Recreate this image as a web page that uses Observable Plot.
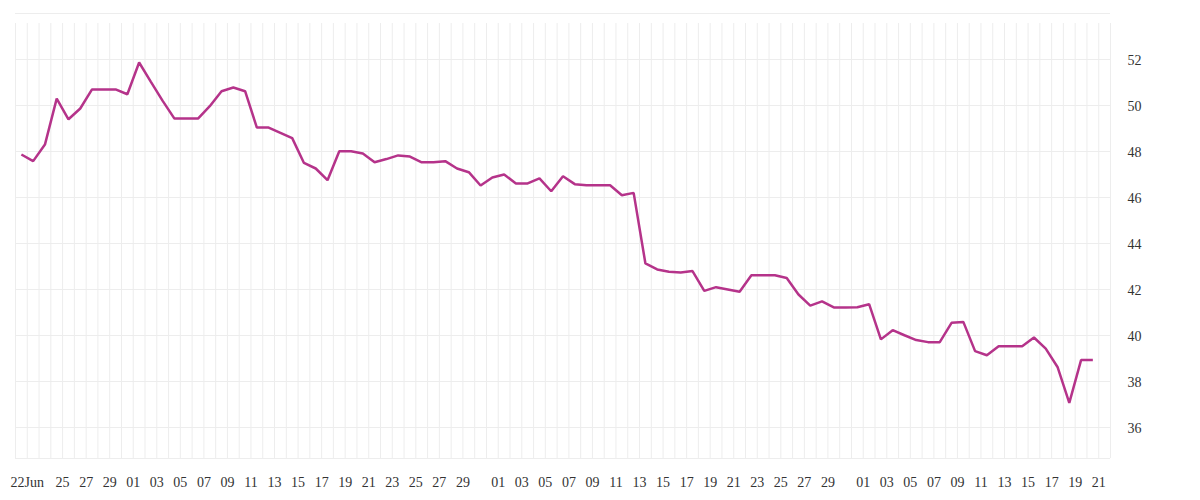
<!DOCTYPE html>
<html>
<head>
<meta charset="utf-8">
<script src="https://cdn.jsdelivr.net/npm/d3@7"></script>
<script src="https://cdn.jsdelivr.net/npm/@observablehq/plot@0.6"></script>
<style>
  html, body { margin: 0; padding: 0; background: #fff; }
  #chart svg { display: block; }
</style>
</head>
<body>
<div id="chart"></div>
<script>
// ---- data ----
const startDate = "2023-06-22";
const values = [
  47.87, 47.58, 48.30, 50.30, 49.40, 49.87, 50.70, 50.70, 50.70, 50.49,
  51.87, 51.03, 50.20, 49.43, 49.43, 49.43, 49.97, 50.62, 50.78, 50.62,
  49.04, 49.04, 48.81, 48.58, 47.50, 47.26, 46.75, 48.01, 48.01, 47.91,
  47.53, 47.67, 47.83, 47.78, 47.53, 47.53, 47.58, 47.26, 47.10, 46.52,
  46.87, 47.00, 46.61, 46.61, 46.83, 46.27, 46.92, 46.58, 46.53, 46.53,
  46.53, 46.10, 46.20, 43.13, 42.87, 42.77, 42.74, 42.80, 41.94, 42.10,
  42.00, 41.90, 42.62, 42.62, 42.62, 42.50, 41.78, 41.30, 41.48, 41.22,
  41.22, 41.23, 41.36, 39.83, 40.23, 40.01, 39.80, 39.71, 39.71, 40.55,
  40.59, 39.32, 39.14, 39.53, 39.53, 39.53, 39.91, 39.43, 38.63, 37.07,
  38.93, 38.93
];
const xDomain = ["2023-06-21", "2023-09-22"];
const yDomain = [34.65, 54];
const yTicks = [36, 38, 40, 42, 44, 46, 48, 50, 52];
const yGrid = [36, 38, 40, 42, 44, 46, 48, 50, 52, 54];
const tickDates = [
  "2023-06-22", "2023-06-25", "2023-06-27", "2023-06-29",
  "2023-07-01", "2023-07-03", "2023-07-05", "2023-07-07", "2023-07-09", "2023-07-11",
  "2023-07-13", "2023-07-15", "2023-07-17", "2023-07-19", "2023-07-21", "2023-07-23",
  "2023-07-25", "2023-07-27", "2023-07-29",
  "2023-08-01", "2023-08-03", "2023-08-05", "2023-08-07", "2023-08-09", "2023-08-11",
  "2023-08-13", "2023-08-15", "2023-08-17", "2023-08-19", "2023-08-21", "2023-08-23",
  "2023-08-25", "2023-08-27", "2023-08-29",
  "2023-09-01", "2023-09-03", "2023-09-05", "2023-09-07", "2023-09-09", "2023-09-11",
  "2023-09-13", "2023-09-15", "2023-09-17", "2023-09-19", "2023-09-21"
];
const tickLabels = [
  "22Jun", "25", "27", "29",
  "01", "03", "05", "07", "09", "11", "13", "15", "17", "19", "21", "23", "25", "27", "29",
  "01", "03", "05", "07", "09", "11", "13", "15", "17", "19", "21", "23", "25", "27", "29",
  "01", "03", "05", "07", "09", "11", "13", "15", "17", "19", "21"
];

// ---- build tables ----
const start = new Date(startDate);
const series = values.map((v, i) => ({date: d3.utcDay.offset(start, i), value: v}));
const xd = xDomain.map(s => new Date(s));
const days = d3.utcDay.range(xd[0], d3.utcDay.offset(xd[1], 1));
const ticks = tickDates.map((s, i) => ({date: new Date(s), label: tickLabels[i]}));

const gridColor = "#ededed";
const font = "Liberation Serif";

const chart = Plot.plot({
  width: 1200,
  height: 500,
  marginLeft: 15,
  marginRight: 90,
  marginTop: 13,
  marginBottom: 42,
  style: {fontFamily: font, fontSize: "14px", color: "#333", background: "#fff", overflow: "visible"},
  x: {type: "utc", domain: xd, axis: null},
  y: {type: "linear", domain: yDomain, axis: null},
  marks: [
    Plot.ruleY(yGrid, {stroke: gridColor, strokeWidth: 1}),
    Plot.ruleY([yDomain[0]], {stroke: gridColor, strokeWidth: 1}),
    Plot.ruleX(days, {x: d => d, y1: yDomain[0], y2: yDomain[1], insetBottom: -10, stroke: gridColor, strokeWidth: 1}),
    Plot.line(series, {x: d => d3.utcHour.offset(d.date, -12), y: "value", stroke: "#b5338a", strokeWidth: 2.5, strokeLinejoin: "miter", strokeLinecap: "butt"}),
    Plot.text(ticks, {x: "date", y: yDomain[0], text: "label", dy: 24, lineAnchor: "middle", fill: "#333", fontSize: 14}),
    Plot.text(yTicks, {x: xd[1], y: d => d, text: d => String(d), dx: 17, dy: 1.5, textAnchor: "start", lineAnchor: "middle", fill: "#333", fontSize: 14})
  ]
});
document.getElementById("chart").appendChild(chart);
</script>
</body>
</html>
